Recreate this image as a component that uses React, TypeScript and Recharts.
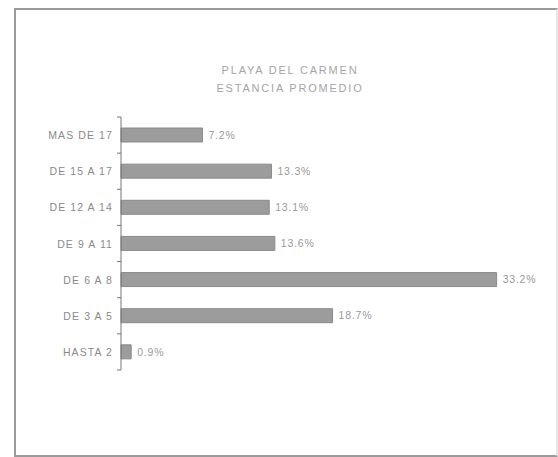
import { Bar, BarChart, LabelList, XAxis, YAxis } from "recharts";

const CATEGORIES = [
  "MAS DE 17",
  "DE 15 A 17",
  "DE 12 A 14",
  "DE 9 A 11",
  "DE 6 A 8",
  "DE 3 A 5",
  "HASTA 2",
];
const PERCENTS = [7.2, 13.3, 13.1, 13.6, 33.2, 18.7, 0.9];

const data = CATEGORIES.map((name, i) => ({ name, value: PERCENTS[i] }));

const FONT = "'Liberation Sans', Arial, sans-serif";
const TOP = 117;
const BOTTOM = 87;
const HEIGHT = 457;
const BAND = (HEIGHT - TOP - BOTTOM) / CATEGORIES.length;

function CategoryTick(props: any) {
  const { x, y, payload, index } = props;
  const axisX = x + 8;
  const last = index === CATEGORIES.length - 1;
  return (
    <g>
      <line x1={axisX - 4} x2={axisX} y1={y - BAND / 2} y2={y - BAND / 2} stroke="#777" />
      {last && (
        <line x1={axisX - 4} x2={axisX} y1={y + BAND / 2} y2={y + BAND / 2} stroke="#777" />
      )}
      <text
        x={x}
        y={y}
        dy={4}
        textAnchor="end"
        fill="#8a8a8a"
        fontSize={10.5}
        fontFamily={FONT}
        letterSpacing={1.1}
      >
        {payload.value}
      </text>
    </g>
  );
}

export default function App() {
  return (
    <div
      style={{
        position: "fixed",
        left: 0,
        top: 0,
        width: 558,
        height: 457,
        background: "#fff",
      }}
    >
      <div
        style={{
          position: "absolute",
          left: 14,
          top: 8,
          width: 540,
          height: 445,
          border: "2px solid #9a9a9a",
          borderRightColor: "#e6e6e6",
        }}
      />
      <div
        style={{
          position: "absolute",
          left: 0,
          top: 61,
          width: 580,
          textAlign: "center",
          fontFamily: FONT,
          fontSize: 11,
          lineHeight: "18px",
          color: "#a5a5a5",
          letterSpacing: 1.8,
        }}
      >
        PLAYA DEL CARMEN
        <br />
        ESTANCIA PROMEDIO
      </div>
      <div style={{ position: "absolute", left: 0, top: 0 }}>
        <BarChart
          width={558}
          height={HEIGHT}
          data={data}
          layout="vertical"
          margin={{ top: TOP, bottom: BOTTOM, left: 21, right: 41 }}
          barCategoryGap={11}
        >
          <XAxis type="number" domain={[0, 35]} hide />
          <YAxis
            type="category"
            dataKey="name"
            width={100}
            axisLine={{ stroke: "#777" }}
            tickLine={false}
            tickSize={0}
            tickMargin={8}
            tick={<CategoryTick />}
            interval={0}
          />
          <Bar
            dataKey="value"
            fill="#9c9c9c"
            stroke="#8a8a8a"
            barSize={14}
            isAnimationActive={false}
          >
            <LabelList
              dataKey="value"
              position="right"
              offset={6}
              formatter={(v: any) => `${Number(v).toFixed(1)}%`}
              style={{ fill: "#9a9a9a", fontSize: 10.5, fontFamily: FONT, letterSpacing: 0.8 }}
            />
          </Bar>
        </BarChart>
      </div>
    </div>
  );
}
